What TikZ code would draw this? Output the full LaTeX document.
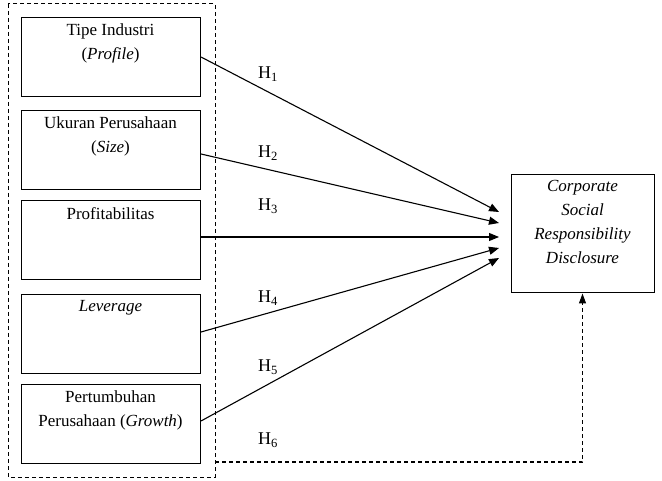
\documentclass[tikz,border=0pt]{standalone}
\usepackage{fontspec}
\setmainfont{Liberation Serif}
\usetikzlibrary{arrows.meta}
\begin{document}
\begin{tikzpicture}[x=1pt,y=-1pt,
  varbox/.style={draw,line width=1pt,minimum width=179pt,minimum height=79pt,anchor=north west,inner sep=0pt},
  txt/.style={font=\fontsize{17}{24}\selectfont,align=center,inner sep=0pt},
  hyp/.style={font=\fontsize{18}{20}\selectfont,inner sep=0pt},
  arr/.style={line width=1.1pt,-{Triangle[length=10pt,width=8pt]}},
  darr/.style={line width=1.1pt,dash pattern=on 4pt off 3pt,-{Triangle[length=10pt,width=7pt]}}]
\useasboundingbox (0,0) rectangle (662,481);
% outer dashed group
\draw[line width=1pt,dash pattern=on 4pt off 3pt] (8,4) rectangle (215,477);
\coordinate (grp) at (215,462);
% variable boxes
\node[varbox] (b1) at (21,17) {};
\node[varbox] (b2) at (21,110) {};
\node[varbox] (b3) at (21,200) {};
\node[varbox] (b4) at (21,294) {};
\node[varbox] (b5) at (21,384) {};
\node[txt,anchor=north] (t1) at (110.5,24) {Tipe Industri\\(\textit{Profile})};
\node[txt,anchor=north] (t2) at (110.5,117) {Ukuran Perusahaan\\(\textit{Size})};
\node[txt,anchor=north] (t3) at (110.5,207) {Profitabilitas};
\node[txt,anchor=north] (t4) at (110.5,300) {\textit{Leverage}};
\node[txt,anchor=north] (t5) at (110.5,391) {Pertumbuhan\\Perusahaan (\textit{Growth})};
% dependent box
\node[draw,line width=1pt,minimum width=143pt,minimum height=118pt,inner sep=0pt] (csr) at (582.5,234) {};
\node[txt,anchor=north] (ct) at (582.5,180) {\textit{Corporate}\\\textit{Social}\\\textit{Responsibility}\\\textit{Disclosure}};
% arrow targets
\coordinate (e1) at (499,212);
\coordinate (e2) at (499,223);
\coordinate (e3) at (499,237);
\coordinate (e4) at (499,248);
\coordinate (e5) at (499,258);
\draw[arr] (b1.east |- 0,57) -- (e1);
\draw[arr] (b2.east |- 0,154) -- (e2);
\draw[arr] (b3.east |- 0,237) -- (e3);
\draw[arr] (b4.east |- 0,332) -- (e4);
\draw[arr] (b5.east |- 0,421) -- (e5);
\draw[darr] (grp) -| (csr.south);
% hypothesis labels
\node[hyp] (h1) at (268,74) {H$_{\mathrm{1}}$};
\node[hyp] (h2) at (268,153) {H$_{\mathrm{2}}$};
\node[hyp] (h3) at (268,206) {H$_{\mathrm{3}}$};
\node[hyp] (h4) at (268,298) {H$_{\mathrm{4}}$};
\node[hyp] (h5) at (268,367) {H$_{\mathrm{5}}$};
\node[hyp] (h6) at (268,440) {H$_{\mathrm{6}}$};
\end{tikzpicture}
\end{document}
